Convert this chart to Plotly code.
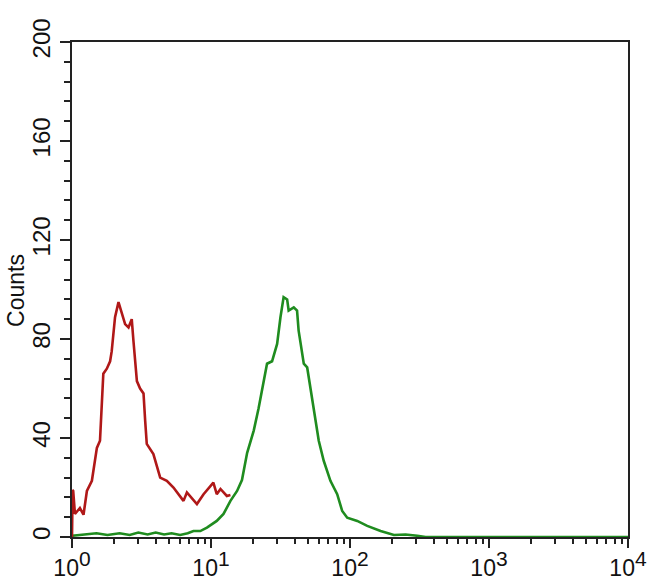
import plotly.graph_objects as go

# Isotype control (red) histogram: fluorescence intensity vs counts
red_x = [1.0, 1.01, 1.02, 1.05, 1.14, 1.21, 1.28, 1.39, 1.42, 1.51, 1.59, 1.64, 1.68, 1.78,
         1.88, 1.93, 2.04, 2.16, 2.28, 2.41, 2.55, 2.69, 2.77, 2.93, 3.09, 3.27, 3.36, 3.45,
         3.85, 4.08, 4.31, 4.81, 5.37, 6.34, 6.71, 7.92, 8.84, 10.4, 11.0, 11.7, 13.0, 13.8]
red_y = [0, 19, 18.6, 9.3, 11.7, 9.0, 18.6, 22.7, 26.7, 36, 38.9, 52, 66, 68,
         71, 75, 88.8, 94.9, 90, 86, 84.7, 88, 79, 63, 60, 58, 47, 37.6,
         33.5, 28, 24, 22.7, 20, 14.6, 18, 13.3, 17.3, 22, 17.3, 19.4, 16.6, 17]

# Stained sample (green) histogram
green_x = [1.0, 1.2, 1.5, 1.8, 2.2, 2.6, 3.0, 3.5, 4.0, 4.6, 5.2, 6.0, 6.8, 7.48, 8.37,
           9.35, 11.0, 12.3, 13.8, 15.4, 16.7, 18.2, 20.3, 22.0, 23.9, 25.3, 27.5, 29.9,
           31.6, 33.3, 35.3, 36.2, 39.4, 41.6, 42.7, 46.5, 49.2, 51.9, 56.4, 59.6, 64.7,
           72.3, 80.9, 87.9, 95.5, 112.7, 133, 166, 207, 251, 305, 350, 10000]
green_y = [0.5, 1.0, 1.5, 0.8, 1.5, 0.8, 1.8, 1.0, 1.8, 1.0, 1.5, 0.8, 1.5, 2.4, 2.4,
           3.8, 6.5, 9.3, 14.6, 18.6, 23, 34, 43, 52, 63, 70, 71, 78,
           88.8, 96.9, 96, 91.5, 92.8, 91.5, 83.4, 70, 68.5, 60.4, 47, 38.9, 30.8,
           22.7, 17.3, 10.5, 7.8, 6.5, 4.5, 2.4, 0.8, 1.0, 0.5, 0, 0]

x_tickvals = [1, 10, 100, 1000, 10000]
x_exponents = ["0", "1", "2", "3", "4"]
x_ticktext = ["10<sup><span style='font-size:21px'>%s</span></sup>" % e for e in x_exponents]
x_minor = [m * 10 ** d for d in range(4) for m in range(2, 10)]
y_tickvals = [0, 40, 80, 120, 160, 200]
y_minor = [v for v in range(0, 201, 8) if v % 40 != 0]

fig = go.Figure()
fig.add_trace(go.Scatter(x=green_x, y=green_y, mode="lines", hoverinfo="skip",
                         line=dict(color="#1f8c1f", width=2.6), showlegend=False))
fig.add_trace(go.Scatter(x=red_x, y=red_y, mode="lines", hoverinfo="skip",
                         line=dict(color="#b01818", width=2.6), showlegend=False))

font_family = "Liberation Sans, Arial, sans-serif"
fig.update_layout(
    width=650, height=585,
    margin=dict(l=72, r=22, t=42, b=48),
    paper_bgcolor="white", plot_bgcolor="white",
    font=dict(family=font_family, color="#111", size=19),
    xaxis=dict(type="log", range=[0, 4], showgrid=False, zeroline=False, automargin=False,
               showline=True, mirror=True, linecolor="#222", linewidth=2,
               ticks="outside", ticklen=9, tickwidth=2, tickcolor="#222",
               tickvals=x_tickvals, ticktext=x_ticktext,
               tickfont=dict(size=23, family=font_family),
               minor=dict(tickvals=x_minor, ticks="outside", ticklen=5,
                          tickwidth=2, tickcolor="#222", showgrid=False)),
    yaxis=dict(range=[0, 200], showgrid=False, zeroline=False, automargin=False,
               showline=True, mirror=True, linecolor="#222", linewidth=2,
               ticks="outside", ticklen=10, tickwidth=2, tickcolor="#222",
               tickvals=y_tickvals, tickangle=-90,
               tickfont=dict(size=24, family=font_family),
               minor=dict(tickvals=y_minor, ticks="outside", ticklen=6,
                          tickwidth=2, tickcolor="#222", showgrid=False)),
    annotations=[dict(text="Counts", xref="paper", yref="paper",
                      x=-0.1, y=0.498, xanchor="center", yanchor="middle",
                      textangle=-90, showarrow=False,
                      font=dict(size=23, family=font_family, color="#111"))],
)

fig.write_html("out.html", config={"displayModeBar": False},
               post_script="document.body.style.margin='0';document.body.style.padding='0';")
